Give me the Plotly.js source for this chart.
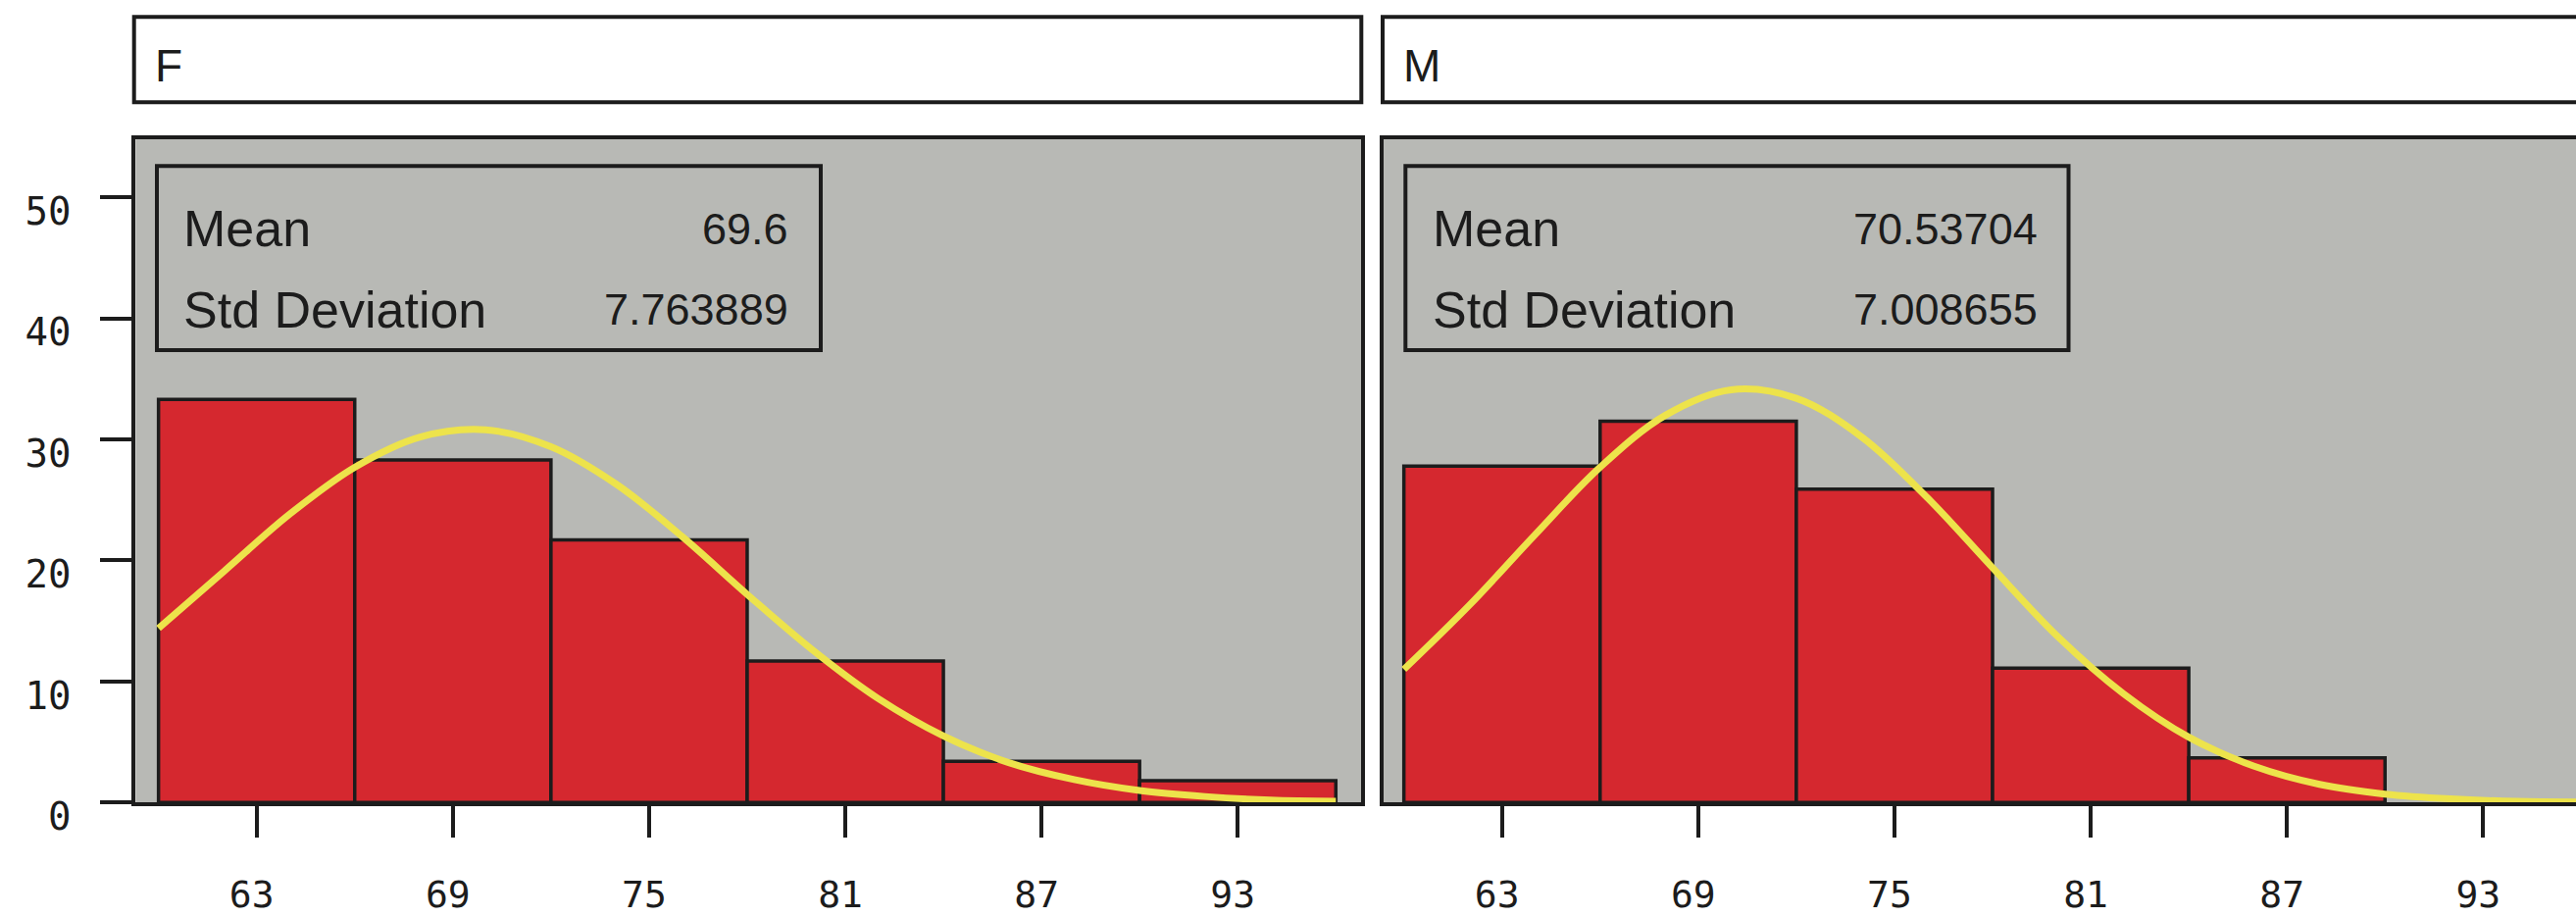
<!DOCTYPE html>
<html>
<head>
<meta charset="utf-8">
<script src="https://cdn.plot.ly/plotly-3.0.1.min.js"></script>
<style>html,body{margin:0;padding:0;overflow:hidden;background:#ffffff;}</style>
</head>
<body>
<div id="chart" style="width:2627px;height:935px;"></div>
<script>
// ---- data ----
const panelLabels = ["F", "M"];
const binCenters = [63, 69, 75, 81, 87, 93];
const xTickLabels = ["63", "69", "75", "81", "87", "93"];
const yTickVals = [0, 10, 20, 30, 40, 50];
const yTickLabels = ["0", "10", "20", "30", "40", "50"];
const femalePercent = [33.3, 28.3, 21.7, 11.7, 3.4, 1.8];
const malePercent = [27.8, 31.5, 25.9, 11.1, 3.7];
const curveX = [60, 62, 64, 66, 68, 70, 72, 74, 76, 78, 80, 82, 84, 86, 88, 90, 92, 94, 96];
const femaleCurve = [14.4, 19.1, 23.8, 27.7, 30.2, 30.8, 29.4, 26.3, 22.0, 17.2, 12.6, 8.6, 5.5, 3.3, 1.9, 1.0, 0.5, 0.2, 0.1];
const maleCurve = [11.0, 16.3, 22.1, 27.7, 32.0, 34.1, 33.4, 30.2, 25.2, 19.4, 13.7, 9.0, 5.4, 3.0, 1.5, 0.7, 0.3, 0.1, 0.05];
const statLabels = ["Mean", "Std Deviation"];
const femaleStats = ["69.6", "7.763889"];
const maleStats = ["70.53704", "7.008655"];

// ---- styling / layout ----
const W = 2627, H = 935;
const px = x => x / W;
const py = y => 1 - y / H;
const ink = "#1c1c1c";
const barRed = "#D5282F";
const panelGray = "#B8B9B5";
const curveYellow = "#EDE34B";
const mono = "DejaVu Sans Mono, monospace";
const sans = "Liberation Sans, Arial, sans-serif";
const binWidth = 6;

function barTrace(vals, xa, ya) {
  return {
    type: "bar", x: binCenters.slice(0, vals.length), y: vals,
    width: vals.map(() => binWidth), xaxis: xa, yaxis: ya,
    marker: { color: barRed, line: { color: ink, width: 3.5 } },
    hoverinfo: "skip", showlegend: false
  };
}
function curveTrace(vals, xa, ya) {
  return {
    type: "scatter", mode: "lines", x: curveX, y: vals, xaxis: xa, yaxis: ya,
    line: { color: curveYellow, width: 7, shape: "spline", smoothing: 1 },
    hoverinfo: "skip", showlegend: false
  };
}

const data = [
  barTrace(femalePercent, "x", "y"),
  curveTrace(femaleCurve, "x", "y"),
  barTrace(malePercent, "x2", "y2"),
  curveTrace(maleCurve, "x2", "y2")
];

const xCommon = {
  tickmode: "array", tickvals: binCenters, ticktext: xTickLabels,
  ticks: "outside", ticklen: 32, tickwidth: 4, tickcolor: ink,
  showline: true, mirror: true, linecolor: ink, linewidth: 4,
  showgrid: false, zeroline: false,
  tickfont: { family: mono, size: 38, color: ink },
  ticklabelstandoff: 25, ticklabelshift: -5, fixedrange: true
};
const yDomain = [py(818.3), py(142)];
const yRange = [0, 54.8];

const layout = {
  width: W, height: H,
  margin: { l: 0, r: 0, t: 0, b: 0, pad: 0 },
  paper_bgcolor: "#ffffff", plot_bgcolor: panelGray,
  showlegend: false, hovermode: false, bargap: 0,
  xaxis: Object.assign({}, xCommon, { domain: [px(138.3), px(1388.3)], range: [59.3, 96.78], anchor: "y" }),
  yaxis: {
    domain: yDomain, range: yRange, anchor: "x",
    tickmode: "array", tickvals: yTickVals, ticktext: yTickLabels,
    ticks: "outside", ticklen: 32, tickwidth: 4, tickcolor: ink,
    showline: true, mirror: true, linecolor: ink, linewidth: 4,
    showgrid: false, zeroline: false,
    tickfont: { family: mono, size: 39, color: ink },
    ticklabelstandoff: 22, ticklabelshift: 14, fixedrange: true
  },
  xaxis2: Object.assign({}, xCommon, { domain: [px(1411), 1], range: [59.38, 95.84], anchor: "y2" }),
  yaxis2: {
    domain: yDomain, range: yRange, anchor: "x2",
    showticklabels: false, ticks: "",
    showline: true, mirror: false, linecolor: ink, linewidth: 4,
    showgrid: false, zeroline: false, fixedrange: true
  },
  shapes: [
    { type: "rect", xref: "paper", yref: "paper", x0: px(136.7), x1: px(1388.3), y0: py(104.3), y1: py(17.3),
      line: { color: ink, width: 4 }, fillcolor: "#ffffff", layer: "below" },
    { type: "rect", xref: "paper", yref: "paper", x0: px(1410), x1: 1.02, y0: py(104.3), y1: py(17.3),
      line: { color: ink, width: 4 }, fillcolor: "#ffffff", layer: "below" },
    { type: "rect", xref: "paper", yref: "paper", x0: px(160), x1: px(837), y0: py(357), y1: py(169.3),
      line: { color: ink, width: 4 }, fillcolor: "rgba(0,0,0,0)", layer: "above" },
    { type: "rect", xref: "paper", yref: "paper", x0: px(1433.3), x1: px(2109.5), y0: py(357), y1: py(169.3),
      line: { color: ink, width: 4 }, fillcolor: "rgba(0,0,0,0)", layer: "above" }
  ],
  annotations: []
};

const stripLeft = [156, 1429];
panelLabels.forEach((lab, i) => {
  layout.annotations.push({ xref: "paper", yref: "paper", x: px(stripLeft[i]), y: py(66.5),
    xanchor: "left", yanchor: "middle", showarrow: false, text: lab,
    font: { family: sans, size: 46, color: ink } });
});

const statRows = [233, 316];
const boxTextLeft = [185, 1459];
const boxValueRight = [806, 2080];
[femaleStats, maleStats].forEach((vals, p) => {
  statLabels.forEach((lab, r) => {
    layout.annotations.push({ xref: "paper", yref: "paper", x: px(boxTextLeft[p]), y: py(statRows[r]),
      xanchor: "left", yanchor: "middle", showarrow: false, text: lab,
      font: { family: sans, size: 52, color: ink } });
    layout.annotations.push({ xref: "paper", yref: "paper", x: px(boxValueRight[p]), y: py(statRows[r]),
      xanchor: "right", yanchor: "middle", showarrow: false, text: vals[r],
      font: { family: sans, size: 45, color: ink } });
  });
});

Plotly.newPlot("chart", data, layout, { staticPlot: true, displayModeBar: false });
</script>
</body>
</html>
